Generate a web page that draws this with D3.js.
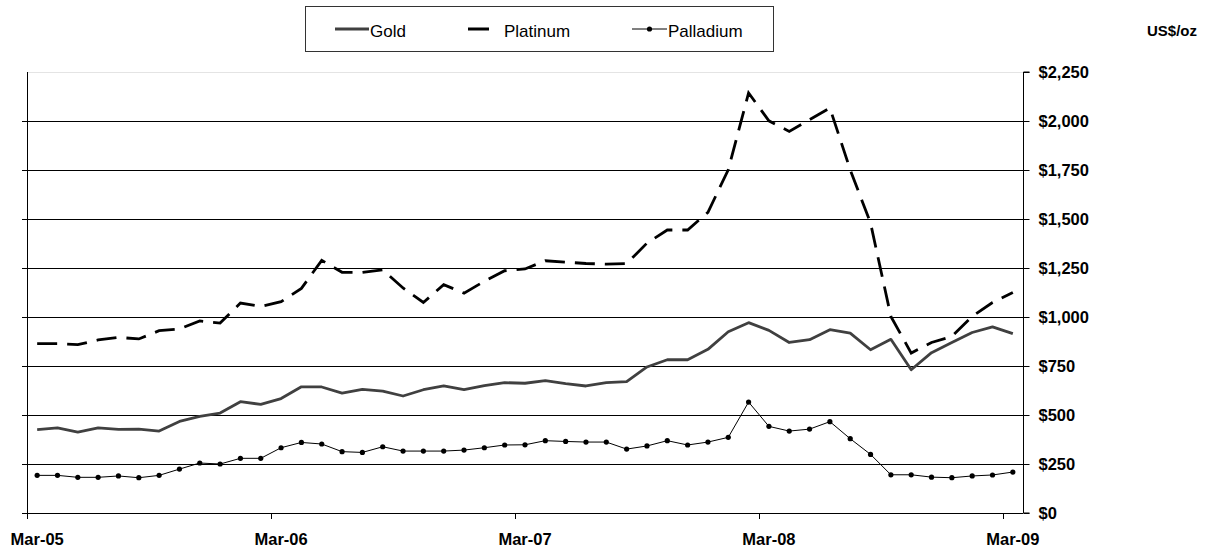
<!DOCTYPE html>
<html>
<head>
<meta charset="utf-8">
<script src="https://cdn.jsdelivr.net/npm/d3@7"></script>
<style>
  body { margin: 0; background: #fff; }
  svg { display: block; font-family: Arial, 'Liberation Sans', sans-serif; }
</style>
</head>
<body>
<svg id="chart" width="1207" height="548"></svg>
<script>
const months = [
  'Mar-05', 'Apr-05', 'May-05', 'Jun-05', 'Jul-05', 'Aug-05', 'Sep-05', 'Oct-05', 'Nov-05', 'Dec-05', 'Jan-06', 'Feb-06',
  'Mar-06', 'Apr-06', 'May-06', 'Jun-06', 'Jul-06', 'Aug-06', 'Sep-06', 'Oct-06', 'Nov-06', 'Dec-06', 'Jan-07', 'Feb-07',
  'Mar-07', 'Apr-07', 'May-07', 'Jun-07', 'Jul-07', 'Aug-07', 'Sep-07', 'Oct-07', 'Nov-07', 'Dec-07', 'Jan-08', 'Feb-08',
  'Mar-08', 'Apr-08', 'May-08', 'Jun-08', 'Jul-08', 'Aug-08', 'Sep-08', 'Oct-08', 'Nov-08', 'Dec-08', 'Jan-09', 'Feb-09',
  'Mar-09'
];
const gold = [
  425, 434, 413, 434, 427, 428, 418, 467, 493, 510, 568, 554,
  584, 644, 643, 612, 631, 622, 597, 629, 648, 629, 650, 665,
  662, 675, 660, 648, 665, 670, 745, 782, 782, 835, 925, 971,
  932, 870, 884, 935, 918, 833, 886, 731, 818, 870, 921, 950,
  915
];
const platinum = [
  864, 864, 859, 883, 896, 888, 930, 939, 980, 969, 1071, 1054,
  1078, 1146, 1289, 1228, 1228, 1241, 1148, 1074, 1165, 1122, 1182, 1236,
  1245, 1287, 1280, 1273, 1270, 1272, 1377, 1444, 1444, 1534, 1751, 2143,
  2001, 1947, 2007, 2066, 1751, 1479, 1003, 816, 870, 901, 1003, 1074,
  1125
];
const palladium = [
  192, 192, 182, 182, 189, 180, 192, 224, 255, 250, 279, 279,
  333, 360, 352, 313, 309, 338, 316, 316, 316, 321, 333, 347,
  348, 369, 365, 362, 362, 326, 342, 369, 347, 362, 386, 566,
  442, 418, 428, 466, 379, 299, 195, 195, 183, 180, 189, 194,
  209
];
const yTicks = [0, 250, 500, 750, 1000, 1250, 1500, 1750, 2000, 2250];
const xLabels = ['Mar-05', 'Mar-06', 'Mar-07', 'Mar-08', 'Mar-09'];

const svg = d3.select('#chart');
const plotLeft = 27, plotRight = 1023, plotTop = 72, plotBottom = 513;

let scaleX = d3.scaleBand().domain(months).range([plotLeft, plotRight]);
let scaleY = d3.scaleLinear().domain([0, 2250]).range([plotBottom, plotTop]);
let cx = (m) => scaleX(m) + scaleX.bandwidth() / 2;

// plot top border
svg.append('line')
  .attr('x1', plotLeft).attr('x2', plotRight)
  .attr('y1', plotTop + 0.5).attr('y2', plotTop + 0.5)
  .attr('stroke', '#e4e4e4');

// gridlines with the little outward ticks on the left
svg.append('g')
  .selectAll('line')
  .data(yTicks.filter(d => d > 0 && d < 2250))
  .enter().append('line')
  .attr('x1', plotLeft - 5).attr('x2', plotRight)
  .attr('y1', d => Math.round(scaleY(d)) + 0.5)
  .attr('y2', d => Math.round(scaleY(d)) + 0.5)
  .attr('stroke', '#000')
  .attr('stroke-width', 1);

// left axis
svg.append('line')
  .attr('x1', plotLeft + 0.5).attr('x2', plotLeft + 0.5)
  .attr('y1', plotTop).attr('y2', plotBottom + 5)
  .attr('stroke', '#000');

// right axis
let yAxis = d3.axisRight(scaleY)
  .tickValues(yTicks)
  .tickSize(6)
  .tickPadding(9)
  .tickFormat(d => '$' + d3.format(',')(d));
let yAxisG = svg.append('g')
  .attr('transform', `translate(${plotRight + 0.5},0)`)
  .call(yAxis);
yAxisG.select('.domain').attr('stroke', '#000').attr('d', `M6,${plotTop}H0V${plotBottom}H6`);
yAxisG.selectAll('.tick line').attr('stroke', '#000');
yAxisG.selectAll('.tick text')
  .attr('fill', '#000')
  .attr('font-size', 16.5)
  .attr('font-weight', 'bold')
  .attr('font-family', "Arial, 'Liberation Sans', sans-serif");

// x axis
svg.append('line')
  .attr('x1', plotLeft - 5).attr('x2', plotRight)
  .attr('y1', plotBottom + 0.5).attr('y2', plotBottom + 0.5)
  .attr('stroke', '#000');
let xTickG = svg.append('g');
xTickG.selectAll('line')
  .data(xLabels)
  .enter().append('line')
  .attr('x1', d => Math.round(scaleX(d)) + 0.5)
  .attr('x2', d => Math.round(scaleX(d)) + 0.5)
  .attr('y1', plotBottom).attr('y2', plotBottom + 6)
  .attr('stroke', '#000');
xTickG.selectAll('text')
  .data(xLabels)
  .enter().append('text')
  .attr('x', d => cx(d))
  .attr('y', 545)
  .attr('text-anchor', 'middle')
  .attr('font-size', 16.5)
  .attr('font-weight', 'bold')
  .text(d => d);

// series
let line = (values) => d3.line()
  .x((d, i) => cx(months[i]))
  .y(d => scaleY(d))(values);

svg.append('path')
  .attr('class', 'line-path')
  .attr('d', line(gold))
  .attr('fill', 'none')
  .attr('stroke', '#404040')
  .attr('stroke-width', 2.8)
  .attr('stroke-linejoin', 'round');

svg.append('path')
  .attr('class', 'line-path')
  .attr('d', line(platinum))
  .attr('fill', 'none')
  .attr('stroke', '#000')
  .attr('stroke-width', 2.8)
  .attr('stroke-dasharray', '20,10');

svg.append('path')
  .attr('class', 'line-path')
  .attr('d', line(palladium))
  .attr('fill', 'none')
  .attr('stroke', '#000')
  .attr('stroke-width', 1);
svg.append('g')
  .selectAll('circle')
  .data(palladium)
  .enter().append('circle')
  .attr('class', 'line-dot')
  .attr('cx', (d, i) => cx(months[i]))
  .attr('cy', d => scaleY(d))
  .attr('r', 2.6)
  .attr('fill', '#000');

// legend
let legend = svg.append('g');
legend.append('rect')
  .attr('x', 305.5).attr('y', 6.5)
  .attr('width', 468).attr('height', 45)
  .attr('fill', '#fff')
  .attr('stroke', '#333');
legend.append('line')
  .attr('x1', 335).attr('x2', 369).attr('y1', 29).attr('y2', 29)
  .attr('stroke', '#404040').attr('stroke-width', 2.8);
legend.append('line')
  .attr('x1', 468).attr('x2', 489).attr('y1', 29).attr('y2', 29)
  .attr('stroke', '#000').attr('stroke-width', 3);
legend.append('line')
  .attr('x1', 632).attr('x2', 667).attr('y1', 29).attr('y2', 29)
  .attr('stroke', '#000').attr('stroke-width', 1);
legend.append('circle')
  .attr('cx', 649.5).attr('cy', 29).attr('r', 2.6).attr('fill', '#000');
let legendText = [['Gold', 370], ['Platinum', 504], ['Palladium', 668]];
legend.selectAll('text')
  .data(legendText)
  .enter().append('text')
  .attr('x', d => d[1])
  .attr('y', 36.5)
  .attr('font-size', 17)
  .text(d => d[0]);

svg.append('text')
  .attr('x', 1197)
  .attr('y', 36)
  .attr('text-anchor', 'end')
  .attr('font-size', 15)
  .attr('font-weight', 'bold')
  .text('US$/oz');
</script>
</body>
</html>
